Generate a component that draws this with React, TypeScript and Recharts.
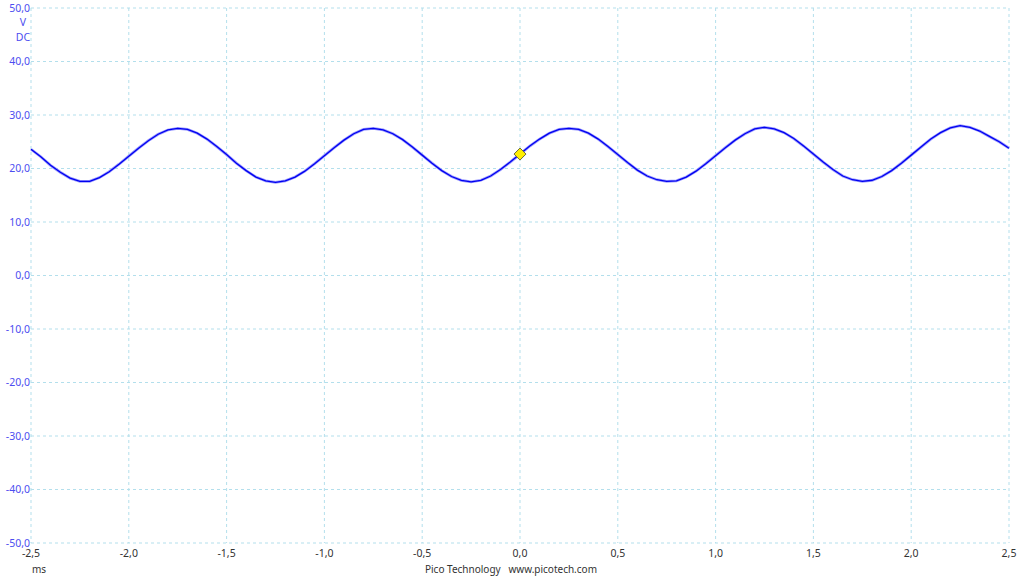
import React from 'react';
import {
  ComposedChart,
  Line,
  XAxis,
  YAxis,
  CartesianGrid,
  ReferenceDot,
} from 'recharts';

// time in ms
const times = [
  -2.5, -2.45, -2.4, -2.35, -2.3, -2.25, -2.2, -2.15, -2.1, -2.05,
  -2.0, -1.95, -1.9, -1.85, -1.8, -1.75, -1.7, -1.65, -1.6, -1.55,
  -1.5, -1.45, -1.4, -1.35, -1.3, -1.25, -1.2, -1.15, -1.1, -1.05,
  -1.0, -0.95, -0.9, -0.85, -0.8, -0.75, -0.7, -0.65, -0.6, -0.55,
  -0.5, -0.45, -0.4, -0.35, -0.3, -0.25, -0.2, -0.15, -0.1, -0.05,
  0.0, 0.05, 0.1, 0.15, 0.2, 0.25, 0.3, 0.35, 0.4, 0.45,
  0.5, 0.55, 0.6, 0.65, 0.7, 0.75, 0.8, 0.85, 0.9, 0.95,
  1.0, 1.05, 1.1, 1.15, 1.2, 1.25, 1.3, 1.35, 1.4, 1.45,
  1.5, 1.55, 1.6, 1.65, 1.7, 1.75, 1.8, 1.85, 1.9, 1.95,
  2.0, 2.05, 2.1, 2.15, 2.2, 2.25, 2.3, 2.35, 2.4, 2.45,
  2.5,
];

// channel A in volts
const voltsA = [
  23.6, 22.2, 20.6, 19.3, 18.2, 17.6, 17.6, 18.3, 19.4, 20.8,
  22.3, 23.8, 25.2, 26.4, 27.2, 27.5, 27.3, 26.6, 25.5, 24.1,
  22.6, 21.0, 19.6, 18.4, 17.7, 17.4, 17.7, 18.4, 19.5, 20.9,
  22.4, 23.9, 25.3, 26.5, 27.3, 27.5, 27.2, 26.5, 25.4, 24.0,
  22.5, 21.0, 19.6, 18.5, 17.8, 17.5, 17.8, 18.6, 19.8, 21.2,
  22.7, 24.2, 25.5, 26.6, 27.3, 27.5, 27.3, 26.6, 25.5, 24.1,
  22.6, 21.1, 19.7, 18.6, 17.9, 17.6, 17.7, 18.4, 19.5, 20.9,
  22.4, 23.9, 25.3, 26.5, 27.4, 27.7, 27.4, 26.7, 25.6, 24.2,
  22.7, 21.2, 19.8, 18.6, 17.9, 17.6, 17.8, 18.5, 19.6, 21.0,
  22.5, 24.0, 25.5, 26.7, 27.6, 28.0, 27.7, 27.0, 26.0, 25.0,
  23.8,
];

const xTicks = [-2.5, -2, -1.5, -1, -0.5, 0, 0.5, 1, 1.5, 2, 2.5];
const yTicks = [50, 40, 30, 20, 10, 0, -10, -20, -30, -40, -50];

// trigger marker
const triggerTime = 0;
const triggerLevel = 22.7;

const data = times.map((t, i) => ({ t, v: voltsA[i] }));

const fmt = (n: number) => n.toFixed(1).replace('.', ',');

const FONT = '"Noto Sans", "DejaVu Sans", sans-serif';
const AXIS_BLUE = '#4d4df0';

const Diamond = (props: any) => {
  const { cx, cy } = props;
  const r = 6;
  return (
    <polygon
      points={`${cx},${cy - r} ${cx + r},${cy} ${cx},${cy + r} ${cx - r},${cy}`}
      fill="#ffee00"
      stroke="#6b6b3a"
      strokeWidth={1}
    />
  );
};

export default function App() {
  return (
    <div style={{ position: 'fixed', left: 0, top: 0, width: 1024, height: 576, background: '#fff', fontFamily: FONT }}>
      <ComposedChart
        width={1024}
        height={576}
        data={data}
        margin={{ top: 8, right: 15, left: 0, bottom: 0 }}
      >
        <CartesianGrid stroke="#b3dfec" strokeDasharray="3 3" />
        <XAxis
          dataKey="t"
          type="number"
          domain={[-2.5, 2.5]}
          ticks={xTicks}
          tickFormatter={fmt}
          axisLine={false}
          tickLine={false}
          tickSize={0}
          tickMargin={7}
          height={33}
          tick={{ fontSize: 10.5, fill: '#333', fontFamily: FONT }}
          interval={0}
        />
        <YAxis
          type="number"
          domain={[-50, 50]}
          ticks={yTicks}
          tickFormatter={fmt}
          axisLine={false}
          tickLine={false}
          tickSize={0}
          tickMargin={1}
          width={31}
          tick={{ fontSize: 10.5, fill: AXIS_BLUE, fontFamily: FONT }}
          interval={0}
        />
        <Line
          dataKey="v"
          type="linear"
          stroke="#9a9aff"
          strokeWidth={2.8}
          dot={false}
          isAnimationActive={false}
        />
        <Line
          dataKey="v"
          type="linear"
          stroke="#0000f0"
          strokeWidth={1.3}
          dot={false}
          isAnimationActive={false}
        />
        <ReferenceDot x={triggerTime} y={triggerLevel} shape={Diamond} />
      </ComposedChart>
      <div style={{ position: 'absolute', left: 16, top: 15, width: 14, textAlign: 'center', fontSize: 10.5, color: AXIS_BLUE }}>V</div>
      <div style={{ position: 'absolute', left: 12, top: 30, width: 22, textAlign: 'center', fontSize: 10.5, color: AXIS_BLUE }}>DC</div>
      <div style={{ position: 'absolute', left: 32, top: 562, fontSize: 10, color: '#333' }}>ms</div>
      <div style={{ position: 'absolute', left: 411, top: 562, width: 200, textAlign: 'center', fontSize: 10, color: '#333', whiteSpace: 'pre' }}>
        {'Pico Technology   www.picotech.com'}
      </div>
    </div>
  );
}
